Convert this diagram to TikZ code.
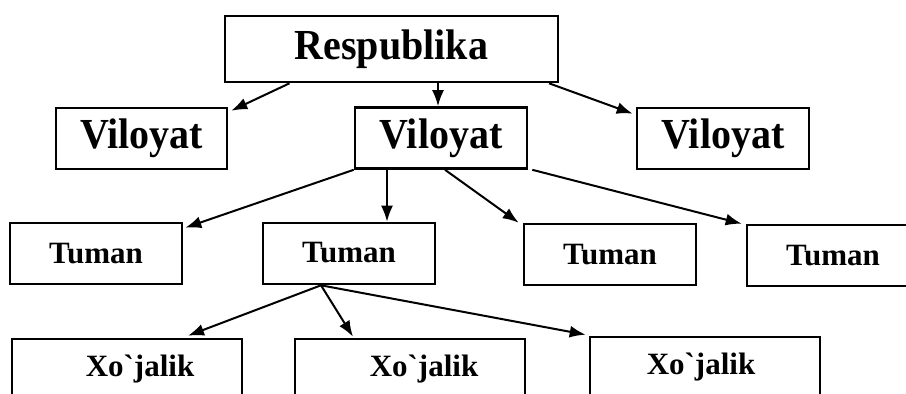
\documentclass[tikz,border=0pt]{standalone}
\usepackage{fontspec}
\setmainfont{Liberation Serif}[Ligatures=TeXOff]
\usetikzlibrary{arrows.meta}

\begin{document}
\begin{tikzpicture}[x=1pt, y=-1pt,
    bigbox/.style={draw, line width=2.6pt, inner sep=0pt,
        minimum height=61pt, font=\fontsize{40}{40}\selectfont\bfseries},
    smallbox/.style={draw, line width=2.6pt, inner sep=0pt,
        minimum width=172pt, minimum height=61pt, font=\fontsize{31}{31}\selectfont\bfseries},
    farmbox/.style={smallbox, minimum width=230pt, minimum height=60pt},
    link/.style={line width=2pt, -{Latex[length=16pt,width=12pt]}}]
    \clip (0,0) rectangle (906,394);

    % top level
    \node[bigbox, minimum width=333pt, minimum height=66pt] (resp) at (391.5,49) {\scalebox{1}[1.07]{Respublika}};

    % regions
    \node[bigbox, minimum width=171pt] (vilA) at (141.5,138.5) {\scalebox{1}[1.07]{Viloyat}};
    \node[bigbox, minimum width=172pt] (vilB) at (441,138) {\scalebox{1}[1.07]{Viloyat}};
    \node[bigbox, minimum width=172pt] (vilC) at (723,138.5) {\scalebox{1}[1.07]{Viloyat}};

    % districts
    \node[smallbox] (tumA) at (96,253.5) {Tuman};
    \node[smallbox] (tumB) at (349,253.5) {\raisebox{3pt}{Tuman}};
    \node[smallbox] (tumC) at (610,254.5) {Tuman};
    \node[smallbox] (tumD) at (833,255.5) {Tuman};

    % farms
    \node[farmbox] (xojA) at (127,369) {\hspace*{26pt}Xo`jalik};
    \node[farmbox] (xojB) at (410,369) {\hspace*{28pt}Xo`jalik};
    \node[farmbox] (xojC) at (705,367) {Xo`jalik\hspace*{8pt}};

    % Respublika -> Viloyat
    \draw[link] ([xshift=-102pt]resp.south) -- ([xshift=3pt,yshift=-4pt]vilA.north east);
    \draw[link] ([xshift=46.5pt]resp.south) -- ([xshift=-3pt]vilB.north);
    \draw[link] ([xshift=157.5pt]resp.south) -- ([xshift=-3pt,yshift=-7pt]vilC.north west);

    % Viloyat -> Tuman
    \draw[link] (vilB.south west) -- ([xshift=2pt,yshift=-6pt]tumA.north east);
    \draw[link] ([xshift=-54pt]vilB.south) -- ([xshift=38pt]tumB.north);
    \draw[link] ([xshift=4pt]vilB.south) -- ([xshift=-4pt]tumC.north west);
    \draw[link] ([xshift=4pt]vilB.south east) -- ([xshift=-4pt]tumD.north west);

    % Tuman -> Xo`jalik
    \draw[link] ([xshift=-28pt]tumB.south) -- ([xshift=61pt,yshift=2pt]xojA.north);
    \draw[link] ([xshift=-28pt]tumB.south) -- ([xshift=-57pt,yshift=1pt]xojB.north);
    \draw[link] ([xshift=-28pt]tumB.south) -- ([xshift=-3pt,yshift=1pt]xojC.north west);
\end{tikzpicture}
\end{document}
